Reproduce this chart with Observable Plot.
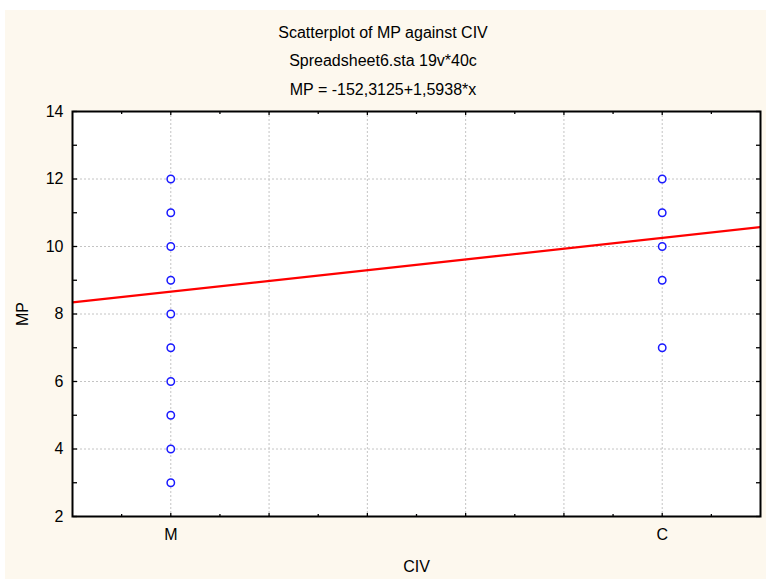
<!DOCTYPE html>
<html>
<head>
<meta charset="utf-8">
<script src="https://cdn.jsdelivr.net/npm/d3@7"></script>
<script src="https://cdn.jsdelivr.net/npm/@observablehq/plot@0.6"></script>
<style>
  html, body { margin: 0; padding: 0; background: #ffffff; }
  body { width: 766px; height: 579px; overflow: hidden; position: relative; font-family: "Liberation Sans", Arial, sans-serif; }
  #bg { position: absolute; left: 5px; top: 10px; width: 761px; height: 569px; background: #FDF8EE; }
  .t { position: absolute; left: 0; width: 766px; text-align: center; font-size: 16px; line-height: 16px; color: #000; white-space: nowrap; }
  #chart { position: absolute; left: 0; top: 100px; }
</style>
</head>
<body>
<div id="bg"></div>
<div class="t" style="top:25px">Scatterplot of MP against CIV</div>
<div class="t" style="top:53px">Spreadsheet6.sta 19v*40c</div>
<div class="t" style="top:82px">MP = -152,3125+1,5938*x</div>
<div id="chart"></div>
<script>
// ---- data ----
const categories = ["M", "C"];
const categoryCodes = [101, 102];
const mpM = [3, 4, 5, 6, 7, 8, 9, 10, 11, 12];
const mpC = [7, 9, 10, 11, 12];
const fitIntercept = -152.3125;
const fitSlope = 1.5938;
const xDomain = [100.8, 102.2];
const yDomain = [2, 14];
const xMajorTicks = [101, 101.2, 101.4, 101.6, 101.8, 102];
const xMinorTicks = [100.9, 101.1, 101.3, 101.5, 101.7, 101.9, 102.1];
const yMajorTicks = [2, 4, 6, 8, 10, 12, 14];
const yMinorTicks = [3, 5, 7, 9, 11, 13];
const yGridTicks = [4, 6, 8, 10, 12];

const points = [
  ...mpM.map(v => ({civ: categoryCodes[0], mp: v})),
  ...mpC.map(v => ({civ: categoryCodes[1], mp: v}))
];
const fit = xDomain.map(x => ({x, y: fitIntercept + fitSlope * x}));

const gridStyle = {stroke: "#c4c4c4", strokeWidth: 1, strokeDasharray: "2,2"};
const tickStyle = {stroke: "black", strokeWidth: 1.3, fill: "none", label: null};

const chart = Plot.plot({
  width: 766,
  height: 479,
  marginTop: 11,
  marginLeft: 72,
  marginRight: 6,
  marginBottom: 63,
  style: {background: "transparent", fontFamily: "'Liberation Sans', Arial, sans-serif", fontSize: "16px", color: "black"},
  x: {domain: xDomain},
  y: {domain: yDomain},
  marks: [
    Plot.frame({fill: "white", stroke: null}),
    Plot.ruleX(xMajorTicks, {x: d => d, ...gridStyle}),
    Plot.ruleY(yGridTicks, {y: d => d, ...gridStyle}),
    Plot.line(fit, {x: "x", y: "y", stroke: "#ff0000", strokeWidth: 2.2, clip: true}),
    Plot.dot(points, {x: "civ", y: "mp", r: 3.7, stroke: "#1a1aff", strokeWidth: 1.5, fill: "white"}),
    // inward ticks
    Plot.axisY(yMajorTicks, {anchor: "right", frameAnchor: "left", tickSize: 4, ...tickStyle}),
    Plot.axisY(yMinorTicks, {anchor: "right", frameAnchor: "left", tickSize: 4, ...tickStyle}),
    Plot.axisY(yMajorTicks, {anchor: "left", frameAnchor: "right", tickSize: 4, ...tickStyle}),
    Plot.axisY(yMinorTicks, {anchor: "left", frameAnchor: "right", tickSize: 4, ...tickStyle}),
    Plot.axisX(xMajorTicks, {anchor: "top", frameAnchor: "bottom", tickSize: 4, ...tickStyle}),
    Plot.axisX(xMinorTicks, {anchor: "top", frameAnchor: "bottom", tickSize: 3, ...tickStyle}),
    Plot.axisX(xMajorTicks, {anchor: "bottom", frameAnchor: "top", tickSize: 4, ...tickStyle}),
    Plot.axisX(xMinorTicks, {anchor: "bottom", frameAnchor: "top", tickSize: 3, ...tickStyle}),
    // labels
    Plot.axisY(yMajorTicks, {anchor: "left", tickSize: 0, tickPadding: 9, fontSize: 16,
      label: "MP", labelAnchor: "center", labelOffset: 56, labelArrow: "none"}),
    Plot.axisX(categoryCodes, {anchor: "bottom", tickSize: 0, tickPadding: 12, fontSize: 16,
      tickFormat: d => categories[categoryCodes.indexOf(d)],
      label: "CIV", labelAnchor: "center", labelOffset: 55, labelArrow: "none"}),
    Plot.frame({stroke: "black", strokeWidth: 2})
  ]
});
document.getElementById("chart").appendChild(chart);
</script>
</body>
</html>
